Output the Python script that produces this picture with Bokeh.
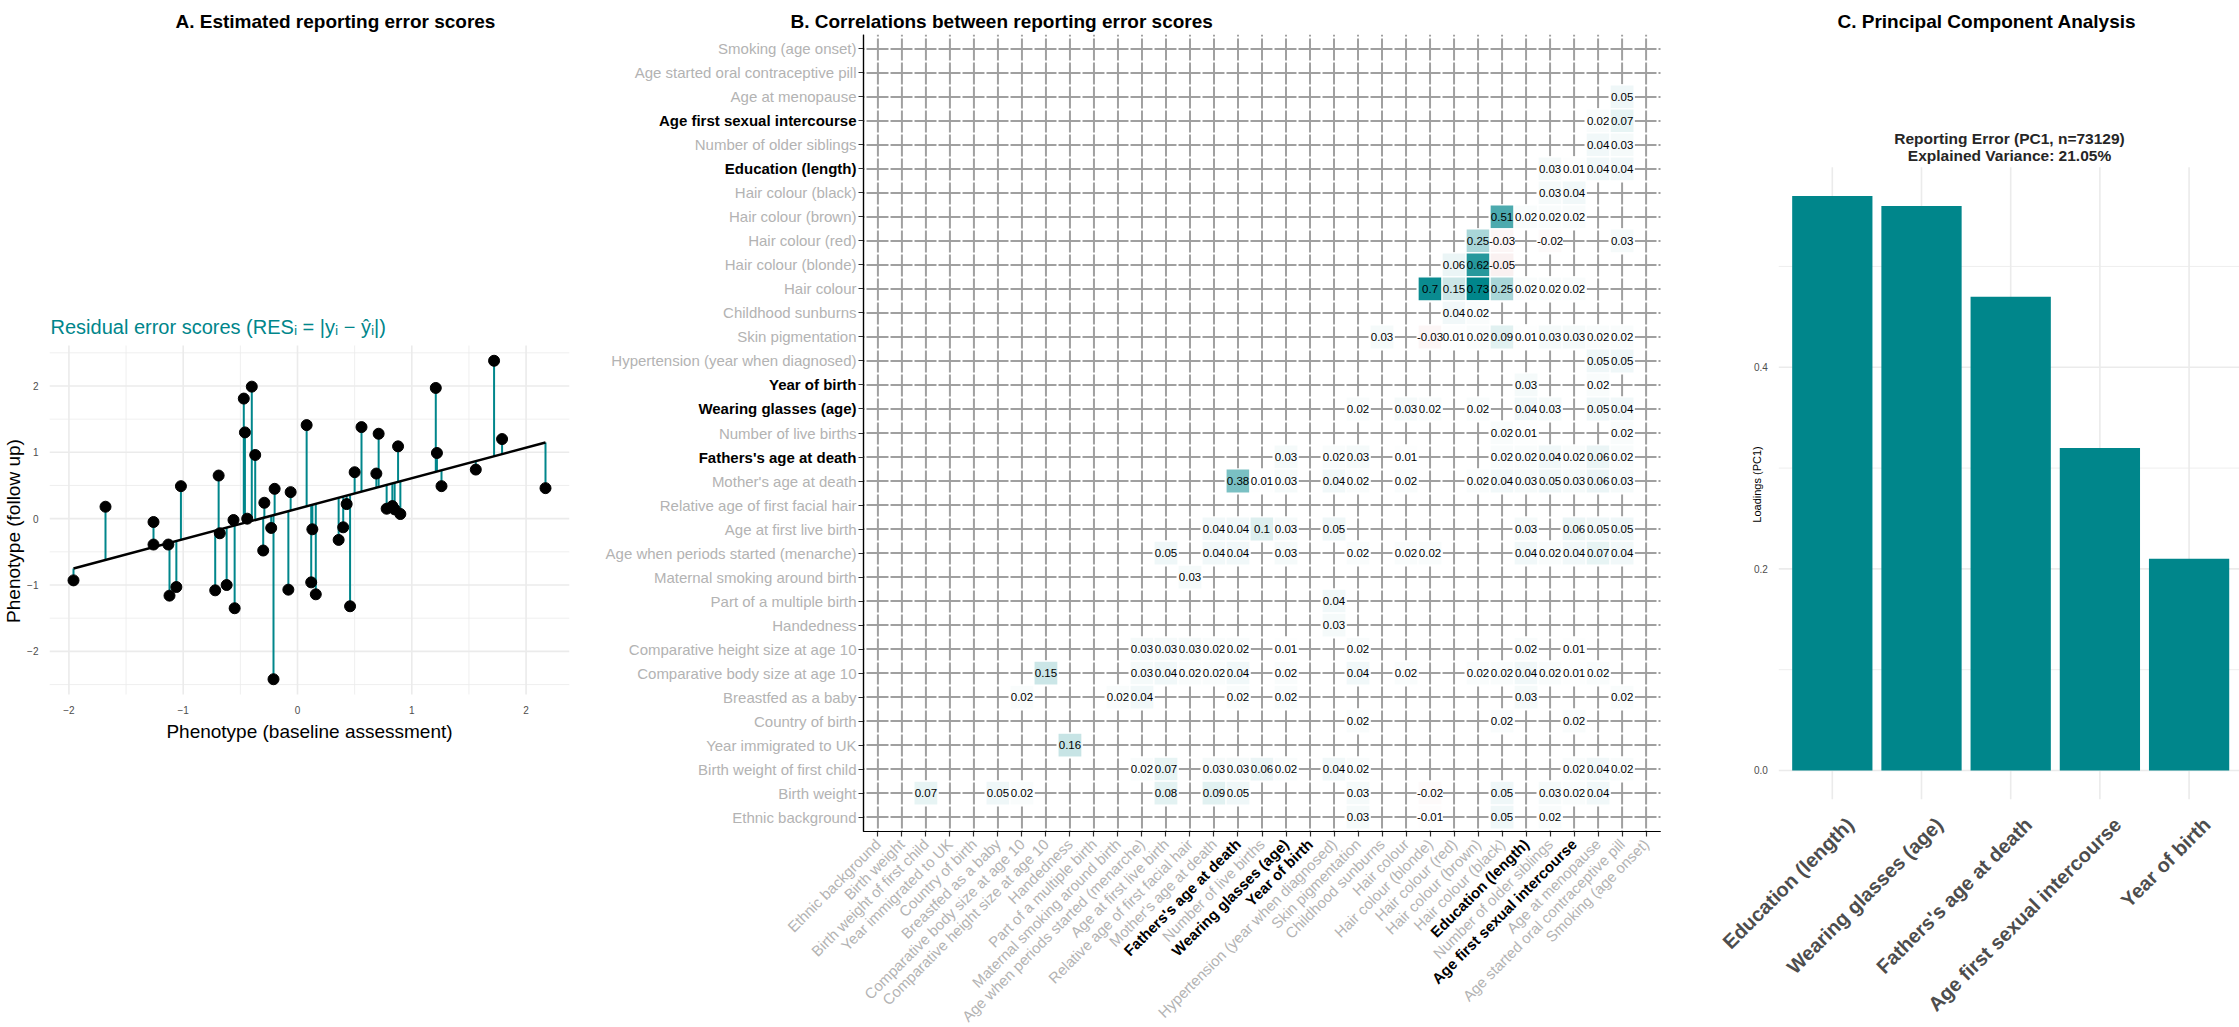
import math

from bokeh.core.properties import value
from bokeh.embed import file_html
from bokeh.layouts import row
from bokeh.models import (ColumnDataSource, FixedTicker, Label, LinearAxis,
                          LinearColorMapper, PrintfTickFormatter, Range1d, Title)
from bokeh.plotting import figure
from bokeh.resources import INLINE

FONT = "Liberation Sans"
TEAL = "#00868B"
NEG = "#B22222"
GRID = "#ebebeb"

# ---------------------------------------------------------------- data
# A: phenotype at baseline vs. follow-up, with the fitted regression line
baseline = [-1.96, -1.68, -1.26, -1.26, -1.13, -1.12, -1.06, -1.02, -0.72, -0.69,
            -0.68, -0.62, -0.56, -0.55, -0.47, -0.46, -0.44, -0.40, -0.37, -0.30,
            -0.29, -0.23, -0.21, -0.20, -0.08, -0.06, 0.08, 0.12, 0.13, 0.16,
            0.36, 0.40, 0.43, 0.46, 0.50, 0.56, 0.69, 0.71, 0.78, 0.83,
            0.85, 0.88, 0.90, 1.21, 1.22, 1.26, 1.56, 1.72, 1.79, 2.17]
followup = [-0.93, 0.18, -0.05, -0.39, -0.39, -1.16, -1.03, 0.49, -1.08, 0.65,
            -0.22, -1.00, -0.02, -1.35, 1.81, 1.30, 0.00, 1.99, 0.96, -0.48,
            0.24, -0.14, -2.42, 0.45, -1.07, 0.40, 1.41, -0.96, -0.16, -1.14,
            -0.32, -0.13, 0.22, -1.32, 0.70, 1.38, 0.68, 1.28, 0.15, 0.19,
            0.14, 1.09, 0.07, 1.97, 0.99, 0.49, 0.74, 2.38, 1.20, 0.46]
fit_intercept = 0.15
fit_slope = 0.46
a_ticks = [-2, -1, 0, 1, 2]
a_xminor = [-1.5, -0.5, 0.5, 1.5]
a_yminor = [-2.5, -1.5, -0.5, 0.5, 1.5, 2.5]
A_X = (-2.17, 2.38)
A_Y = (-2.65, 2.61)

# B: traits (bottom-to-top / left-to-right) and pairwise correlations
traits = [
    "Ethnic background", "Birth weight", "Birth weight of first child",
    "Year immigrated to UK", "Country of birth", "Breastfed as a baby",
    "Comparative body size at age 10", "Comparative height size at age 10",
    "Handedness", "Part of a multiple birth", "Maternal smoking around birth",
    "Age when periods started (menarche)", "Age at first live birth",
    "Relative age of first facial hair", "Mother's age at death",
    "Fathers's age at death", "Number of live births", "Wearing glasses (age)",
    "Year of birth", "Hypertension (year when diagnosed)", "Skin pigmentation",
    "Childhood sunburns", "Hair colour", "Hair colour (blonde)", "Hair colour (red)",
    "Hair colour (brown)", "Hair colour (black)", "Education (length)",
    "Number of older siblings", "Age first sexual intercourse", "Age at menopause",
    "Age started oral contraceptive pill", "Smoking (age onset)",
]
selected_traits = ["Fathers's age at death", "Wearing glasses (age)", "Year of birth",
                   "Education (length)", "Age first sexual intercourse"]

corr_rows = [30, 29, 28, 27, 26, 25, 24, 23, 22, 21, 20, 19, 18, 17, 16,
             15, 14, 12, 11, 10, 9, 8, 7, 6, 5, 4, 3, 2, 1, 0]
corr_cols = [
    [31],
    [30, 31],
    [30, 31],
    [28, 29, 30, 31],
    [28, 29],
    [26, 27, 28, 29],
    [25, 26, 28, 31],
    [24, 25, 26],
    [23, 24, 25, 26, 27, 28, 29],
    [24, 25],
    [21, 23, 24, 25, 26, 27, 28, 29, 30, 31],
    [30, 31],
    [27, 30],
    [20, 22, 23, 25, 27, 28, 30, 31],
    [26, 27, 31],
    [17, 19, 20, 22, 26, 27, 28, 29, 30, 31],
    [15, 16, 17, 19, 20, 22, 25, 26, 27, 28, 29, 30, 31],
    [14, 15, 16, 17, 19, 27, 29, 30, 31],
    [12, 14, 15, 17, 20, 22, 23, 27, 28, 29, 30, 31],
    [13],
    [19],
    [19],
    [11, 12, 13, 14, 15, 17, 20, 27, 29],
    [7, 11, 12, 13, 14, 15, 17, 20, 22, 25, 26, 27, 28, 29, 30],
    [6, 10, 11, 15, 17, 27, 31],
    [20, 26, 29],
    [8],
    [11, 12, 14, 15, 16, 17, 19, 20, 29, 30, 31],
    [2, 5, 6, 12, 14, 15, 20, 23, 26, 28, 29, 30],
    [20, 23, 26, 28],
]
corr_vals = [
    [0.05],
    [0.02, 0.07],
    [0.04, 0.03],
    [0.03, 0.01, 0.04, 0.04],
    [0.03, 0.04],
    [0.51, 0.02, 0.02, 0.02],
    [0.25, -0.03, -0.02, 0.03],
    [0.06, 0.62, -0.05],
    [0.70, 0.15, 0.73, 0.25, 0.02, 0.02, 0.02],
    [0.04, 0.02],
    [0.03, -0.03, 0.01, 0.02, 0.09, 0.01, 0.03, 0.03, 0.02, 0.02],
    [0.05, 0.05],
    [0.03, 0.02],
    [0.02, 0.03, 0.02, 0.02, 0.04, 0.03, 0.05, 0.04],
    [0.02, 0.01, 0.02],
    [0.03, 0.02, 0.03, 0.01, 0.02, 0.02, 0.04, 0.02, 0.06, 0.02],
    [0.38, 0.01, 0.03, 0.04, 0.02, 0.02, 0.02, 0.04, 0.03, 0.05, 0.03, 0.06, 0.03],
    [0.04, 0.04, 0.10, 0.03, 0.05, 0.03, 0.06, 0.05, 0.05],
    [0.05, 0.04, 0.04, 0.03, 0.02, 0.02, 0.02, 0.04, 0.02, 0.04, 0.07, 0.04],
    [0.03],
    [0.04],
    [0.03],
    [0.03, 0.03, 0.03, 0.02, 0.02, 0.01, 0.02, 0.02, 0.01],
    [0.15, 0.03, 0.04, 0.02, 0.02, 0.04, 0.02, 0.04, 0.02, 0.02, 0.02, 0.04, 0.02, 0.01, 0.02],
    [0.02, 0.02, 0.04, 0.02, 0.02, 0.03, 0.02],
    [0.02, 0.02, 0.02],
    [0.16],
    [0.02, 0.07, 0.03, 0.03, 0.06, 0.02, 0.04, 0.02, 0.02, 0.04, 0.02],
    [0.07, 0.05, 0.02, 0.08, 0.09, 0.05, 0.03, -0.02, 0.05, 0.03, 0.02, 0.04],
    [0.03, -0.01, 0.05, 0.02],
]

# C: loadings of the first principal component
pc_traits = ["Education (length)", "Wearing glasses (age)", "Fathers's age at death",
             "Age first sexual intercourse", "Year of birth"]
pc_loadings = [0.57, 0.56, 0.47, 0.32, 0.21]
pc_n = 73129
pc_explained = 21.05
c_major = [0.0, 0.2, 0.4]
c_minor = [0.1, 0.3, 0.5]
C_Y = (-0.0285, 0.5985)

# ---------------------------------------------------------------- page geometry
PAGE_H = 1027
FRAME_TOP = 34  # all three frames share this top edge; titles sit above it


class Frame:
    """Ranges for a frame spanning page pixels [left, right] x [FRAME_TOP, PAGE_H],
    chosen so that the panel's data box lands on the given page pixels."""

    def __init__(self, left, right, xlim, xpix, ylim, ypix):
        kx = (xlim[1] - xlim[0]) / (xpix[1] - xpix[0])
        self.x0 = xlim[0] - (xpix[0] - left) * kx
        self.x1 = xlim[1] + (right - xpix[1]) * kx
        # ypix = (bottom, top) in page pixels, measured downwards
        ky = (ylim[1] - ylim[0]) / (ypix[0] - ypix[1])
        self.y0 = ylim[0] - (PAGE_H - ypix[0]) * ky
        self.y1 = ylim[1] + (ypix[1] - FRAME_TOP) * ky
        self.left, self.right = left, right

    def data(self, px, py):
        x = self.x0 + (px - self.left) * (self.x1 - self.x0) / (self.right - self.left)
        y = self.y1 - (py - FRAME_TOP) * (self.y1 - self.y0) / (PAGE_H - FRAME_TOP)
        return x, y


def make_figure(width, frame, left_border, right_border):
    p = figure(width=width, height=PAGE_H, x_range=Range1d(frame.x0, frame.x1),
               y_range=Range1d(frame.y0, frame.y1), output_backend="svg",
               toolbar_location=None, tools="", min_border_left=left_border,
               min_border_right=right_border, min_border_top=FRAME_TOP, min_border_bottom=0)
    p.outline_line_color = None
    p.grid.visible = False
    return p


def add_title(p, text, offset):
    p.add_layout(Title(text=text, align="left", offset=offset, standoff=5,
                       text_font=FONT, text_font_size="19px", text_font_style="bold",
                       text_color="black"), "above")


def add_text(p, frame, px, py, text, size, style="normal", color="black", align="center",
             angle=0.0):
    x, y = frame.data(px, py)
    p.add_layout(Label(x=x, y=y, text=text, angle=angle, text_font=FONT,
                       text_font_size=size, text_font_style=style, text_color=color,
                       text_align=align, text_baseline="middle"))


def mix(c1, c2, t):
    a = [int(c1[i:i + 2], 16) for i in (1, 3, 5)]
    b = [int(c2[i:i + 2], 16) for i in (1, 3, 5)]
    return "#%02x%02x%02x" % tuple(round(a[k] + (b[k] - a[k]) * t) for k in range(3))


# ---------------------------------------------------------------- panel A
FA = Frame(48, 569, A_X, (48, 569), A_Y, (694, 345))
p_a = make_figure(590, FA, 48, 21)

p_a.segment(x0=a_xminor, y0=[A_Y[0]] * len(a_xminor), x1=a_xminor, y1=[A_Y[1]] * len(a_xminor),
            line_color=GRID, line_width=0.8)
p_a.segment(x0=[A_X[0]] * len(a_yminor), y0=a_yminor, x1=[A_X[1]] * len(a_yminor), y1=a_yminor,
            line_color=GRID, line_width=0.8)
p_a.segment(x0=a_ticks, y0=[A_Y[0]] * len(a_ticks), x1=a_ticks, y1=[A_Y[1]] * len(a_ticks),
            line_color=GRID, line_width=1.6)
p_a.segment(x0=[A_X[0]] * len(a_ticks), y0=a_ticks, x1=[A_X[1]] * len(a_ticks), y1=a_ticks,
            line_color=GRID, line_width=1.6)

fitted = [fit_intercept + fit_slope * x for x in baseline]
src_a = ColumnDataSource(dict(x=baseline, y=followup, fit=fitted))
p_a.segment(x0="x", y0="y", x1="x", y1="fit", source=src_a, line_color=TEAL, line_width=2)
line_x = [min(baseline), max(baseline)]
p_a.line(line_x, [fit_intercept + fit_slope * x for x in line_x], line_color="black",
         line_width=2.5)
p_a.scatter("x", "y", source=src_a, size=11, fill_color="black", line_color="black")

for ax in (p_a.xaxis[0], p_a.yaxis[0]):
    ax.ticker = FixedTicker(ticks=a_ticks)
    ax.axis_line_color = None
    ax.major_tick_line_color = None
    ax.minor_tick_line_color = None
    ax.major_label_text_font = FONT
    ax.major_label_text_font_size = "10px"
    ax.major_label_text_color = "#4d4d4d"
    ax.major_label_standoff = 5
    ax.major_label_overrides = {-2: "\u22122", -1: "\u22121"}
    ax.axis_label_text_font = FONT
    ax.axis_label_text_font_size = "19px"
    ax.axis_label_text_font_style = "normal"
    ax.axis_label_text_color = "black"
p_a.xaxis.fixed_location = A_Y[0]
p_a.xaxis.bounds = A_X
p_a.yaxis.bounds = A_Y
p_a.xaxis.axis_label = "Phenotype (baseline assessment)"
p_a.yaxis.axis_label = "Phenotype (follow up)"
p_a.xaxis.axis_label_standoff = 4
p_a.yaxis.axis_label_standoff = 0

add_title(p_a, "A. Estimated reporting error scores", 126)
add_text(p_a, FA, 49, 326, "Residual error scores (RES\u1d62 = |y\u1d62 \u2212 y\u0302\u1d62|)",
         "20px", color=TEAL, align="left")

# ---------------------------------------------------------------- panel B
n = len(traits)
idx = list(range(n))
B_LIM = (-0.6, n - 1 + 0.6)
FB = Frame(590, 1700, B_LIM, (863, 1660), B_LIM, (831, 34))
p_b = make_figure(1110, FB, 0, 0)

# dashed grid, with the gaps falling on the cell boundaries
p_b.segment(x0=[B_LIM[0]] * n, y0=idx, x1=[B_LIM[1]] * n, y1=idx, line_color="#a0a0a0",
            line_width=2, line_dash="22 2", line_dash_offset=21)
p_b.segment(x0=idx, y0=[B_LIM[0]] * n, x1=idx, y1=[B_LIM[1]] * n, line_color="#a0a0a0",
            line_width=2, line_dash="22 2", line_dash_offset=21)

cell_x, cell_y, cell_r = [], [], []
for r, cols, vals in zip(corr_rows, corr_cols, corr_vals):
    for c, v in zip(cols, vals):
        cell_x.append(c)
        cell_y.append(r)
        cell_r.append(v)
src_b = ColumnDataSource(dict(x=cell_x, y=cell_y, r=cell_r,
                              label=[f"{v:g}" for v in cell_r]))
vmax = max(abs(v) for v in cell_r)
palette = ([mix(NEG, "#ffffff", i / 127) for i in range(128)] +
           [mix("#ffffff", TEAL, i / 127) for i in range(128)])
mapper = LinearColorMapper(palette=palette, low=-vmax, high=vmax)
p_b.rect(x="x", y="y", width=1, height=1, source=src_b,
         fill_color={"field": "r", "transform": mapper}, line_color="white", line_width=1.2)
p_b.text(x="x", y="y", text="label", source=src_b, text_font=value(FONT),
         text_font_size="11.5px", text_align="center", text_baseline="middle",
         text_color="black")

plain_ids = [i for i, t in enumerate(traits) if t not in selected_traits]
bold_ids = [i for i, t in enumerate(traits) if t in selected_traits]


def trait_axis(ax, ids, color, style, rotated):
    ax.ticker = FixedTicker(ticks=ids)
    ax.major_label_overrides = {i: traits[i] for i in ids}
    ax.fixed_location = B_LIM[0]
    ax.bounds = B_LIM
    ax.axis_line_color = "black"
    ax.axis_line_width = 1.2
    ax.major_tick_in = 0
    ax.major_tick_out = 5
    ax.major_tick_line_color = "#333333"
    ax.major_tick_line_width = 1.2
    ax.minor_tick_line_color = None
    ax.major_label_text_font = FONT
    ax.major_label_text_font_size = "15px"
    ax.major_label_text_font_style = style
    ax.major_label_text_color = color
    if rotated:
        ax.major_label_orientation = math.pi / 4
        ax.major_label_standoff = 5
    else:
        ax.major_label_standoff = 2


trait_axis(p_b.yaxis[0], plain_ids, "#b3b3b3", "normal", False)
trait_axis(p_b.xaxis[0], plain_ids, "#b3b3b3", "normal", True)
bold_y = LinearAxis()
trait_axis(bold_y, bold_ids, "black", "bold", False)
p_b.add_layout(bold_y, "left")
bold_x = LinearAxis()
trait_axis(bold_x, bold_ids, "black", "bold", True)
p_b.add_layout(bold_x, "below")

add_title(p_b, "B. Correlations between reporting error scores", 200)

# ---------------------------------------------------------------- panel C
pc_pos = list(range(len(pc_traits)))
C_X = (-0.6, len(pc_traits) - 1 + 0.6)
FC = Frame(1700, 2239, C_X, (1778.3, 2242.1), C_Y, (798.7, 166.7))
p_c = make_figure(539, FC, 0, 0)

p_c.segment(x0=pc_pos, y0=[C_Y[0]] * len(pc_pos), x1=pc_pos, y1=[C_Y[1]] * len(pc_pos),
            line_color=GRID, line_width=1.6)
p_c.segment(x0=[C_X[0]] * len(c_minor), y0=c_minor, x1=[FC.x1] * len(c_minor), y1=c_minor,
            line_color=GRID, line_width=0.8)
p_c.segment(x0=[C_X[0]] * len(c_major), y0=c_major, x1=[FC.x1] * len(c_major), y1=c_major,
            line_color=GRID, line_width=1.6)
p_c.vbar(x=pc_pos, top=pc_loadings, width=0.9, fill_color=TEAL, line_color=None)

# rotated category names, anchored a little right of each bar centre
label_shift = 0.2
xc = p_c.xaxis[0]
xc.fixed_location = C_Y[0]
xc.ticker = FixedTicker(ticks=[k + label_shift for k in pc_pos])
xc.major_label_overrides = {k + label_shift: name for k, name in zip(pc_pos, pc_traits)}
xc.major_label_orientation = math.pi / 4
xc.major_label_standoff = 16
xc.axis_line_color = None
xc.major_tick_line_color = None
xc.minor_tick_line_color = None
xc.major_label_text_font = FONT
xc.major_label_text_font_size = "20px"
xc.major_label_text_font_style = "bold"
xc.major_label_text_color = "#4d4d4d"

yc = p_c.yaxis[0]
yc.fixed_location = C_X[0]
yc.ticker = FixedTicker(ticks=c_major)
yc.formatter = PrintfTickFormatter(format="%.1f")
yc.axis_line_color = None
yc.major_tick_line_color = None
yc.minor_tick_line_color = None
yc.major_label_text_font = FONT
yc.major_label_text_font_size = "10px"
yc.major_label_text_color = "#4d4d4d"
yc.major_label_standoff = 5

add_title(p_c, "C. Principal Component Analysis", 137)
add_text(p_c, FC, 1756, 484, "Loadings (PC1)", "11px", angle=math.pi / 2)
add_text(p_c, FC, 2009, 138, f"Reporting Error (PC1, n={pc_n})", "15.5px", "bold", "#262626")
add_text(p_c, FC, 2009, 155, f"Explained Variance: {pc_explained:.2f}%", "15.5px", "bold",
         "#262626")

layout = row(p_a, p_b, p_c)
open("out.html", "w").write(file_html(layout, INLINE))
